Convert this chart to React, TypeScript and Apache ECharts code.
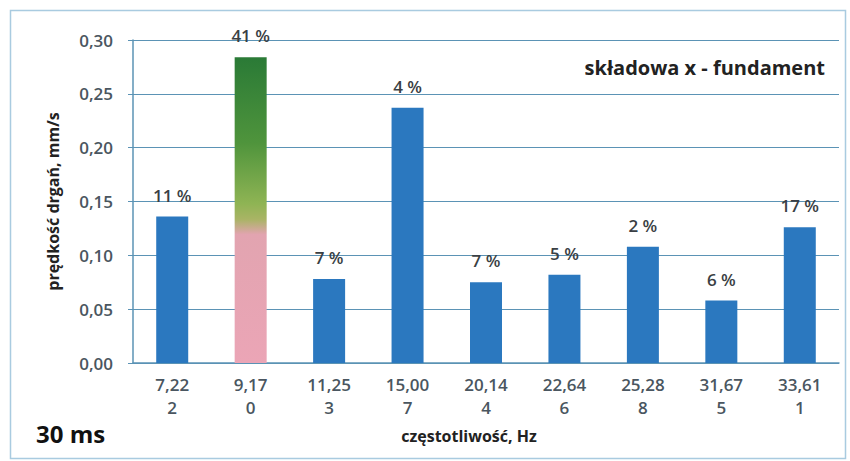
import React, { useEffect, useRef } from "react";
import * as echarts from "echarts";

const frequencies = ["7,22", "9,17", "11,25", "15,00", "20,14", "22,64", "25,28", "31,67", "33,61"];
const indices = ["2", "0", "3", "7", "4", "6", "8", "5", "1"];
const velocities = [0.136, 0.284, 0.078, 0.237, 0.075, 0.082, 0.108, 0.058, 0.126];
const shares = ["11 %", "41 %", "7 %", "4 %", "7 %", "5 %", "2 %", "6 %", "17 %"];
const yTicks = [0, 0.05, 0.1, 0.15, 0.2, 0.25, 0.3];
const highlightIndex = 1;

const FONT = "'Open Sans', sans-serif";

export default function App() {
  const ref = useRef<HTMLDivElement>(null);
  useEffect(() => {
    if (!ref.current) return;
    const chart = echarts.init(ref.current, null, { renderer: "svg" });
    const categories = frequencies.map((f, i) => f + "\n" + indices[i]);
    const data = velocities.map((v, i) =>
      i === highlightIndex
        ? {
            value: v,
            itemStyle: {
              color: new echarts.graphic.LinearGradient(0, 0, 0, 1, [
                { offset: 0, color: "#2a7a36" },
                { offset: 0.28, color: "#4f943c" },
                { offset: 0.48, color: "#8fb454" },
                { offset: 0.53, color: "#a9b465" },
                { offset: 0.58, color: "#e2a4b0" },
                { offset: 1, color: "#eba5b6" },
              ]),
            },
          }
        : v
    );
    chart.setOption({
      animation: false,
      backgroundColor: "#ffffff",
      textStyle: { fontFamily: FONT },
      title: {
        text: "składowa x - fundament",
        right: 20,
        top: 52,
        textStyle: { fontFamily: FONT, fontWeight: "bold", fontSize: 20, color: "#222222" },
      },
      grid: { left: 133, right: 11, top: 40, bottom: 98 },
      xAxis: {
        type: "category",
        data: categories,
        axisLine: { show: true, lineStyle: { color: "#5b93b5", width: 1.5 } },
        axisTick: { show: false },
        axisLabel: {
          margin: 10,
          lineHeight: 23,
          fontSize: 17,
          fontWeight: 600,
          color: "#4a5660",
          fontFamily: FONT,
        },
        name: "częstotliwość, Hz",
        nameLocation: "middle",
        nameGap: 65,
        nameTextStyle: { fontFamily: FONT, fontWeight: "bold", fontSize: 16, color: "#222222", padding: [0, 34, 0, 0] },
      },
      yAxis: {
        type: "value",
        min: yTicks[0],
        max: yTicks[yTicks.length - 1],
        interval: 0.05,
        axisLine: { show: true, lineStyle: { color: "#5b93b5", width: 1.5 } },
        axisTick: { show: true, length: 5, lineStyle: { color: "#5b93b5" } },
        splitLine: { show: true, lineStyle: { color: "#5b93b5", width: 1.2 } },
        axisLabel: {
          margin: 20,
          fontSize: 17,
          fontWeight: 600,
          color: "#4a5660",
          fontFamily: FONT,
          formatter: (v: number) => v.toFixed(2).replace(".", ","),
        },
        name: "prędkość drgań, mm/s",
        nameLocation: "middle",
        nameGap: 72,
        nameRotate: 90,
        nameTextStyle: { fontFamily: FONT, fontWeight: "bold", fontSize: 16, color: "#222222", padding: [0, 0, 0, 0] },
      },
      series: [
        {
          type: "bar",
          data,
          barWidth: 32,
          itemStyle: { color: "#2b78bf" },
          label: {
            show: true,
            position: "top",
            distance: 13,
            fontSize: 17,
            fontWeight: 600,
            color: "#3a3f44",
            fontFamily: FONT,
            formatter: (p: any) => shares[p.dataIndex],
          },
        },
      ],
      graphic: [
        {
          type: "rect",
          shape: { x: 10.5, y: 10.5, width: 835, height: 448 },
          style: { fill: "none", stroke: "#a9cbe0", lineWidth: 1.5 },
          silent: true,
        },
        {
          type: "text",
          left: 36,
          top: 421,
          style: { text: "30 ms", fontFamily: FONT, fontWeight: "bold", fontSize: 24, fill: "#111111" },
        },
      ],
    });
    return () => chart.dispose();
  }, []);
  return (
    <div
      ref={ref}
      style={{ position: "fixed", left: 0, top: 0, width: 850, height: 461 }}
    />
  );
}
